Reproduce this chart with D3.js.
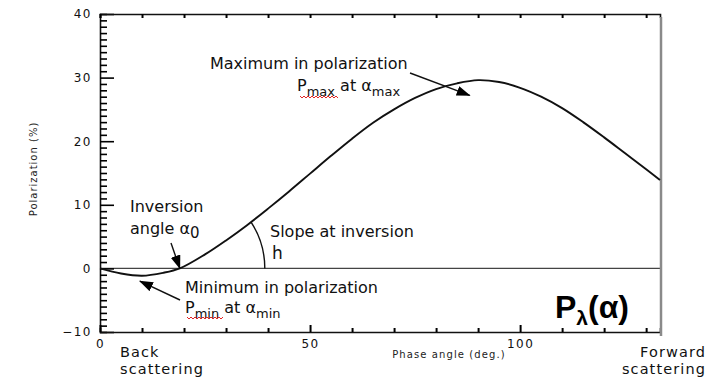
<!DOCTYPE html>
<html>
<head>
<meta charset="utf-8">
<script src="https://cdn.jsdelivr.net/npm/d3@7"></script>
<style>
  html, body { margin: 0; padding: 0; background: #fff; }
  svg { display: block; }
</style>
</head>
<body>
<svg id="chart" width="716" height="378"></svg>
<script>
// Phase angle (deg.) and degree of linear polarization (%)
const phaseAngle   = [0, 5, 10, 15, 19, 25, 30, 35, 40, 45, 50, 55, 60, 65, 70, 75, 80, 85, 90, 95, 100, 105, 110, 115, 120, 125, 130, 133.3];
const polarization = [0, -0.8, -1.15, -0.7, 0, 2.2, 4.4, 6.8, 9.4, 12.1, 14.9, 17.7, 20.4, 22.9, 25.0, 26.8, 28.2, 29.1, 29.6, 29.3, 28.4, 27.0, 25.2, 23.0, 20.6, 18.1, 15.6, 13.9];

const xDomain = [0, 133.3];
const yDomain = [-10, 40];
const xLabelTicks = [0, 50, 100];
const xMinorTicks = [0, 10, 20, 30, 40, 50, 60, 70, 80, 90, 100, 110, 120, 130];
const yLabelTicks = [-10, 0, 10, 20, 30, 40];
const yMinorTicks = d3.range(-10, 41, 1);

// Characteristic points of the phase curve
const inversionAngle = 19;      // α0
const minPoint = { a: 9.5, p: -2.0 };   // arrow tip near Pmin
const maxPoint = { a: 88, p: 27.2 };    // arrow tip near Pmax

const svg = d3.select("#chart");
const plotLeft = 100, plotRight = 660, plotTop = 14, plotBottom = 332;

const x = d3.scaleLinear().domain(xDomain).range([plotLeft, plotRight]);
const y = d3.scaleLinear().domain(yDomain).range([plotBottom, plotTop]);

const defs = svg.append("defs");
defs.append("marker")
  .attr("id", "head")
  .attr("markerUnits", "userSpaceOnUse")
  .attr("markerWidth", 14).attr("markerHeight", 10)
  .attr("refX", 13).attr("refY", 5)
  .attr("orient", "auto")
  .append("path").attr("d", "M0,0 L14,5 L0,10 Z").attr("fill", "#000");

// Zero polarization line
svg.append("line")
  .attr("x1", x(xDomain[0])).attr("x2", x(xDomain[1]))
  .attr("y1", y(0)).attr("y2", y(0))
  .attr("stroke", "#444").attr("stroke-width", 1.3);

// Frame axes; tick marks point into the plot
const labelStyle = g => g.selectAll(".tick text")
  .attr("font-family", "DejaVu Sans, sans-serif")
  .attr("font-size", 12).attr("letter-spacing", 1.5).attr("fill", "#111");

const leftMinor = svg.append("g").attr("transform", `translate(${plotLeft},0)`)
  .call(d3.axisRight(y).tickValues(yMinorTicks).tickSize(7).tickFormat(""));
leftMinor.select(".domain").attr("stroke", "#111").attr("stroke-width", 1.6);
leftMinor.selectAll(".tick line").attr("stroke", "#000").attr("stroke-width", 1.6)
  .attr("x2", d => (d % 10 === 0 ? 14 : 7));

const leftLabels = svg.append("g").attr("transform", `translate(${plotLeft},0)`)
  .call(d3.axisLeft(y).tickValues(yLabelTicks).tickSize(0).tickPadding(8)
        .tickFormat(d => d < 0 ? "\u2212" + Math.abs(d) : d));
leftLabels.select(".domain").remove();
leftLabels.call(labelStyle);

const bottomMinor = svg.append("g").attr("transform", `translate(0,${plotBottom})`)
  .call(d3.axisTop(x).tickValues(xMinorTicks).tickSize(4).tickFormat(""));
bottomMinor.select(".domain").attr("stroke", "#111").attr("stroke-width", 1.6);
bottomMinor.selectAll(".tick line").attr("stroke", "#000").attr("stroke-width", 2)
  .attr("y2", d => (d % 50 === 0 ? -7 : -4));

const bottomLabels = svg.append("g").attr("transform", `translate(0,${plotBottom})`)
  .call(d3.axisBottom(x).tickValues(xLabelTicks).tickSize(0).tickPadding(7));
bottomLabels.select(".domain").remove();
bottomLabels.call(labelStyle);

const topMinor = svg.append("g").attr("transform", `translate(0,${plotTop})`)
  .call(d3.axisBottom(x).tickValues(xMinorTicks).tickSize(4).tickFormat(""));
topMinor.select(".domain").attr("stroke", "#111").attr("stroke-width", 1.6);
topMinor.selectAll(".tick line").attr("stroke", "#000").attr("stroke-width", 2);

// Right frame edge
svg.append("line")
  .attr("x1", plotRight + 1).attr("x2", plotRight + 1)
  .attr("y1", plotTop + 3).attr("y2", plotBottom + 4)
  .attr("stroke", "#8a8a8a").attr("stroke-width", 2.5);

// Axis titles
svg.append("text")
  .attr("transform", `translate(37,${(plotTop + plotBottom) / 2 - 4}) rotate(-90)`)
  .attr("text-anchor", "middle")
  .attr("font-family", "DejaVu Sans, sans-serif").attr("font-size", 10)
  .attr("letter-spacing", 1).attr("fill", "#222")
  .text("Polarization (%)");
svg.append("text")
  .attr("x", 449).attr("y", 358)
  .attr("text-anchor", "middle")
  .attr("font-family", "DejaVu Sans, sans-serif").attr("font-size", 10)
  .attr("letter-spacing", 1.1).attr("fill", "#222")
  .text("Phase angle (deg.)");

// Phase curve
const curveData = phaseAngle.map((a, i) => ({ a, p: polarization[i] }));
const curvePath = svg.append("path")
  .datum(curveData)
  .attr("fill", "none")
  .attr("stroke", "#111")
  .attr("stroke-width", 1.9)
  .attr("d", d3.line().x(d => x(d.a)).y(d => y(d.p)).curve(d3.curveCatmullRom.alpha(0.5)));

// Slope arc at the inversion point, swept from the zero line to the curve
const cx0 = x(inversionAngle), cy0 = y(0), r = 85;
const node = curvePath.node();
const total = node.getTotalLength();
let hit = null;
for (let s = 0; s <= total; s += 0.5) {
  const pt = node.getPointAtLength(s);
  if (pt.x > cx0 && Math.hypot(pt.x - cx0, pt.y - cy0) >= r) { hit = pt; break; }
}
const theta = Math.atan2(cy0 - hit.y, hit.x - cx0);
svg.append("path")
  .attr("fill", "none").attr("stroke", "#111").attr("stroke-width", 1.4)
  .attr("d", `M${cx0 + r},${cy0} A${r},${r} 0 0 0 ${cx0 + r * Math.cos(theta)},${cy0 - r * Math.sin(theta)}`);

// Annotations
const font = "DejaVu Sans, sans-serif";
function label(xp, yp, size) {
  return svg.append("text").attr("x", xp).attr("y", yp)
    .attr("font-family", font).attr("font-size", size).attr("fill", "#111");
}
function squiggle(x0, x1, yy) {
  let d = `M${x0},${yy}`;
  for (let xx = x0, k = 0; xx < x1; xx += 2, k++) d += ` L${xx + 2},${yy + (k % 2 ? 0 : 2)}`;
  svg.append("path").attr("d", d).attr("fill", "none").attr("stroke", "#e02424").attr("stroke-width", 1);
}
function arrow(x1, y1, x2, y2) {
  svg.append("line").attr("x1", x1).attr("y1", y1).attr("x2", x2).attr("y2", y2)
    .attr("stroke", "#111").attr("stroke-width", 1.4).attr("marker-end", "url(#head)");
}

// Maximum
label(210, 69, 16).text("Maximum in polarization");
const tMax = label(297, 91, 16);
tMax.append("tspan").text("P");
tMax.append("tspan").attr("dy", 5).attr("font-size", 13).text("max");
tMax.append("tspan").attr("dy", -5).text(" at \u03b1");
tMax.append("tspan").attr("dy", 5).attr("font-size", 13).text("max");
squiggle(300, 337, 96);
arrow(410, 73, x(maxPoint.a), y(maxPoint.p));

// Inversion angle
label(130, 212, 16).text("Inversion");
const tInv = label(130, 234, 16);
tInv.append("tspan").text("angle \u03b1");
tInv.append("tspan").attr("dy", 4).attr("font-size", 15).text("0");
arrow(171, 243, x(inversionAngle), y(0));

// Slope
label(270, 237, 16).text("Slope at inversion");
label(272, 259, 17).text("h");

// Minimum
label(185, 293, 16).text("Minimum in polarization");
const tMin = label(185, 313, 16);
tMin.append("tspan").text("P");
tMin.append("tspan").attr("dy", 5).attr("font-size", 13).text("min");
tMin.append("tspan").attr("dy", -5).text(" at \u03b1");
tMin.append("tspan").attr("dy", 5).attr("font-size", 13).text("min");
squiggle(187, 222, 317);
arrow(180, 300, x(minPoint.a), y(minPoint.p));

// Big symbol
const tP = svg.append("text").attr("x", 555).attr("y", 318)
  .attr("font-family", "Liberation Sans, Arial, sans-serif").attr("font-weight", "bold")
  .attr("font-size", 32).attr("fill", "#000");
tP.append("tspan").text("P");
tP.append("tspan").attr("dy", 7).attr("font-size", 21).text("\u03bb");
tP.append("tspan").attr("dy", -7).text("(\u03b1)");

// Scattering direction labels
const dirSize = 14.5, dirSpacing = 1.1;
label(120, 357, dirSize).attr("letter-spacing", dirSpacing).text("Back");
label(120, 374, dirSize).attr("letter-spacing", dirSpacing).text("scattering");
label(706, 357, dirSize).attr("letter-spacing", dirSpacing).attr("text-anchor", "end").text("Forward");
label(706, 374, dirSize).attr("letter-spacing", dirSpacing).attr("text-anchor", "end").text("scattering");
</script>
</body>
</html>
